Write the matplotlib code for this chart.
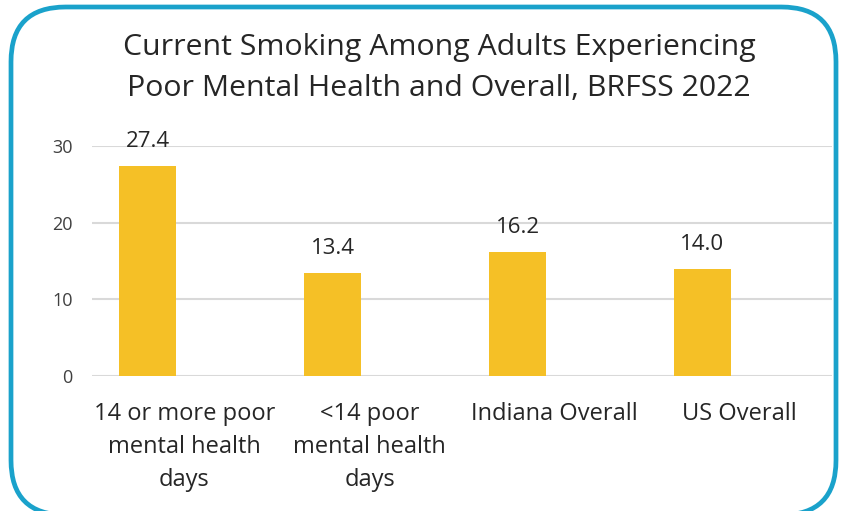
import matplotlib
matplotlib.use("Agg")
import matplotlib.pyplot as plt
from matplotlib.patches import FancyBboxPatch

categories = ["14 or more poor\nmental health\ndays", "<14 poor\nmental health\ndays", "Indiana Overall", "US Overall"]
values = [27.4, 13.4, 16.2, 14.0]
value_labels = ["27.4", "13.4", "16.2", "14.0"]
yticks = [0, 10, 20, 30]
title = "Current Smoking Among Adults Experiencing\nPoor Mental Health and Overall, BRFSS 2022"

plt.rcParams['font.family'] = ['Open Sans', 'DejaVu Sans']

fig = plt.figure(figsize=(8.41, 5.11), dpi=100)
fig.patch.set_facecolor('white')

border = FancyBboxPatch((11/841, -4/511), (836-11)/841, (512-8+4)/511,
                        boxstyle="round,pad=0,rounding_size=0.065",
                        transform=fig.transFigure, facecolor='none',
                        edgecolor='#1AA2CB', linewidth=3.4,
                        mutation_aspect=841/511, zorder=-1)
fig.patches.append(border)

ax = fig.add_axes([92/841, 1-376/511, (832-92)/841, (376-146)/511])
ax.set_facecolor('none')
x = list(range(len(categories)))
bar_offset = -0.2
bx = [xi + bar_offset for xi in x]
ax.bar(bx, values, width=0.31, color='#F5C026', zorder=3)
for xi, v, lab in zip(bx, values, value_labels):
    ax.text(xi, v + 1.8, lab, ha='center', va='bottom', fontsize=16, color='#262626', clip_on=False)

ax.set_xlim(-0.5, 3.5)
ax.set_ylim(0, 30)
ax.set_yticks(yticks)
ax.set_xticks(x)
ax.set_xticklabels(categories, fontsize=17, color='#262626', linespacing=1.5)
ax.tick_params(axis='x', length=0, pad=19)
ax.tick_params(axis='y', length=0, pad=14, labelsize=13, labelcolor='#404040')
for s in ax.spines.values():
    s.set_visible(False)
ax.grid(axis='y', color='#D9D9D9', linewidth=1.5, zorder=0)
ax.set_axisbelow(True)

fig.text(0.522, 1-68/511, title, ha='center', va='center', fontsize=21.8,
         color='#262626', linespacing=1.55)

fig.savefig('out.png', dpi=100, facecolor='white')
